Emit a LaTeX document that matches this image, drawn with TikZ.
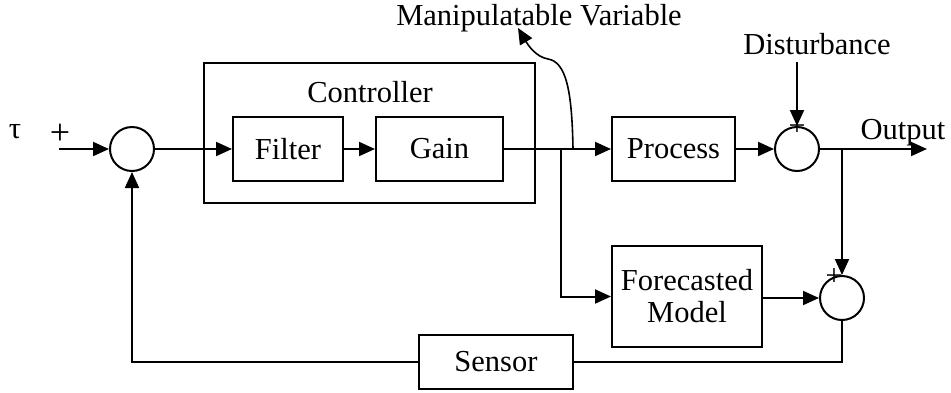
\documentclass[tikz,border=0pt]{standalone}
\usepackage{fontspec}
\setmainfont{Liberation Serif}
\usetikzlibrary{arrows.meta}
\begin{document}
\begin{tikzpicture}[x=1pt,y=-1pt,
  line width=2pt,
  every node/.style={font=\fontsize{30.5}{34}\selectfont, inner sep=0pt},
  blk/.style={draw, rectangle},
  sumj/.style={draw, circle, minimum size=44pt},
  arr/.style={-{Triangle[length=16pt,width=14pt]}},
  sgn/.style={font=\fontsize{36}{38}\selectfont},
  smallsgn/.style={font=\fontsize{30}{32}\selectfont}]
\useasboundingbox (0,0) rectangle (951,392);

% summing junctions
\node[sumj] (s1) at (132,149) {};
\node[sumj] (s2) at (797,149) {};
\node[sumj] (s3) at (842,298) {};

% controller frame with its inner blocks
\node[blk, minimum width=331pt, minimum height=140pt] (ctrl) at (369.5,133) {};
\node (ctrllbl) at (370,92) {Controller};
\node[blk, minimum width=110pt, minimum height=64pt] (filter) at (288,149) {Filter};
\node[blk, minimum width=127pt, minimum height=64pt] (gain) at (439.5,149) {Gain};

% plant, model and sensor
\node[blk, minimum width=123pt, minimum height=64pt] (proc) at (673.5,149) {Process};
\node[blk, minimum width=150pt, minimum height=101pt, align=center] (fmod) at (687,296.5) {Forecasted\\[-2pt]Model};
\node[blk, minimum width=154pt, minimum height=54pt] (sensor) at (496,362) {Sensor};

% labels
\node (tau) at (15,132) {τ};
\node[sgn] (plus1) at (60,134) {+};
\node[smallsgn] (plus2) at (797,127) {+};
\node[smallsgn] (plus3) at (834,277) {+};
\node (dist) at (817,44) {Disturbance};
\node[anchor=base] (outlbl) at (903,139) {Output};
\node (mv) at (539,18) {Manipulatable Variable};

% free ends and branch points
\coordinate (in) at (59,149);
\coordinate (dtop) at (797,62);
\coordinate (out) at (927,149);
\coordinate (br1) at (561,149);
\coordinate (br2) at (842,149);
\coordinate (mvstart) at (573,149);
\coordinate (mvtip) at (518,28);

% forward path
\draw[arr] (in) -- (s1.west);
\draw[arr] (s1.east) -- (filter.west);
\draw[arr] (filter.east) -- (gain.west);
\draw[arr] (gain.east) -- (proc.west);
\draw[arr] (proc.east) -- (s2.west);
\draw[arr] (dtop) -- (s2.north);
\draw[arr] (s2.east) -- (out);

% model branch
\draw[arr] (br1) |- (fmod.west);
\draw[arr] (br2) -- (s3.north);
\draw[arr] (fmod.east |- s3.west) -- (s3.west);

% feedback through the sensor
\draw (s3.south) |- (sensor.east);
\draw[arr] (sensor.west) -| (s1.south);

% pointer to the manipulated signal
\draw[arr, line width=1.6pt] (mvstart) .. controls (572,90) and (566,62) .. (548,59)
  .. controls (536,57) and (528,45) .. (mvtip);
\end{tikzpicture}
\end{document}
